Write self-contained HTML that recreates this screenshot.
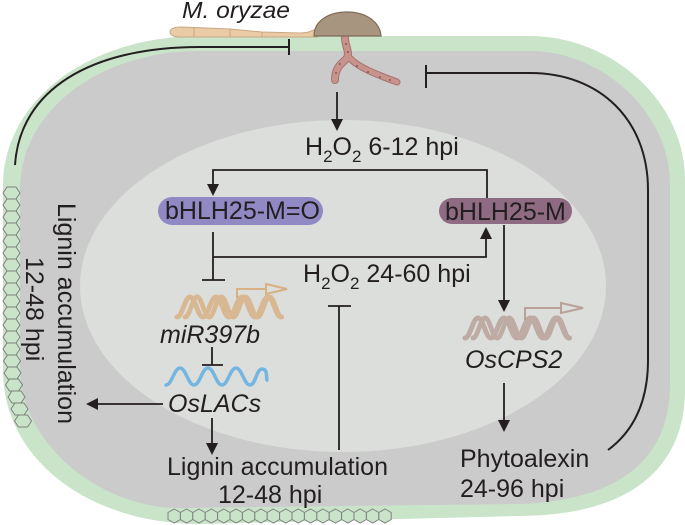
<!DOCTYPE html>
<html><head><meta charset="utf-8"><style>
html,body{margin:0;padding:0;background:#fff;}
svg{display:block;}
text{font-family:"Liberation Sans",Arial,sans-serif;fill:#231f20;font-size:25px;}
.it{font-style:italic;}
</style></head><body>
<svg width="685" height="525" viewBox="0 0 685 525" xmlns="http://www.w3.org/2000/svg">
<defs>
<polygon id="hv" points="-8.5,0 -4.5,-6 4.5,-6 8.5,0 4.5,6 -4.5,6" fill="#c9e4c9" stroke="#808080" stroke-width="1"/>
<polygon id="hb" points="0,-7 6.2,-3.5 6.2,3.5 0,7 -6.2,3.5 -6.2,-3.5" fill="#c9e4c9" stroke="#808080" stroke-width="1"/>
<path id="hx" d="M0,0 C5.2,0 7.8,-20 13,-20 S20.8,0 26,0 S33.8,-20 39,-20 S46.8,0 52,0 S59.8,-20 65,-20 S72.8,0 78,0 S85.8,-20 91,-20 S98.8,0 104,0" fill="none" stroke-width="5" stroke-linecap="round"/>
</defs>
<!-- cell wall -->
<path d="M200,36 L530,36 C610,36 685,100 685,180 L685,390 C685,460 640,515 520,516 L200,524 C90,524 3,460 3,370 L3,186 C3,100 90,36 200,36 Z" fill="#c9e4c9"/>
<path d="M200,51 L530,51 C600,51 670,110 670,185 L670,385 C670,450 630,500 520,504 L180,508 C100,508 22,445 20,370 L20,190 C20,110 100,51 200,51 Z" fill="#cbcbcc"/>
<ellipse cx="343" cy="286" rx="263" ry="166" fill="#dcdedb"/>

<!-- left hexagons -->
<g>
<use href="#hv" x="11.5" y="193"/><use href="#hv" x="11.5" y="205"/><use href="#hv" x="11.5" y="217"/><use href="#hv" x="11.5" y="229"/><use href="#hv" x="11.5" y="241"/><use href="#hv" x="11.5" y="253"/><use href="#hv" x="11.5" y="265"/><use href="#hv" x="11.5" y="277"/><use href="#hv" x="11.5" y="289"/><use href="#hv" x="11.5" y="301"/><use href="#hv" x="11.5" y="313"/><use href="#hv" x="11.5" y="325"/><use href="#hv" x="11.5" y="337"/><use href="#hv" x="11.5" y="349"/><use href="#hv" x="12" y="361"/><use href="#hv" x="12.5" y="373"/><use href="#hv" x="14" y="385"/><use href="#hv" x="16.5" y="397"/><use href="#hv" x="19.5" y="409"/><use href="#hv" x="23" y="421"/>
</g>
<!-- bottom hexagons -->
<g>
<use href="#hb" x="174.2" y="516"/><use href="#hb" x="186.6" y="516"/><use href="#hb" x="199" y="516"/><use href="#hb" x="211.4" y="516"/><use href="#hb" x="223.8" y="516"/><use href="#hb" x="236.2" y="516"/><use href="#hb" x="248.6" y="516"/><use href="#hb" x="261" y="516"/><use href="#hb" x="273.4" y="516"/><use href="#hb" x="285.8" y="516"/><use href="#hb" x="298.2" y="516"/><use href="#hb" x="310.6" y="516"/><use href="#hb" x="323" y="516"/><use href="#hb" x="335.4" y="516"/><use href="#hb" x="347.8" y="516"/><use href="#hb" x="360.2" y="516"/><use href="#hb" x="372.6" y="516"/><use href="#hb" x="385" y="516"/>
</g>

<!-- big arcs -->
<g fill="none" stroke="#231f20" stroke-width="2">
<path d="M15,165 C20,90 90,47 200,47 L289,47"/>
<path d="M289,39 L289,55"/>
<path d="M426,73 L530,73 C600,73 648,120 648,190 L648,360 C648,400 635,430 608,450"/>
<path d="M426,65 L426,88"/>
</g>

<!-- fungus -->
<path d="M170,32 C170,28 175,27 182,27 L230,29 L262,32 L300,33 C308,33 312,31 318,28 L318,37 L180,37 C174,37 170,35 170,32 Z" fill="#e9cba6" stroke="#c9a882" stroke-width="1"/>
<path d="M194,27.5 L194,37 M230,29 L230,37 M262,32 L262,37" stroke="#c9a882" stroke-width="1"/>
<g fill="none" stroke-linecap="round">
<path d="M345,38 C345,46 350,52 347,58 C343,63 335,66 335,80" stroke="#a6726c" stroke-width="8"/>
<path d="M348,56 C355,66 375,74 397,82" stroke="#a6726c" stroke-width="7"/>
<path d="M345,38 C345,46 350,52 347,58 C343,63 335,66 335,80" stroke="#c8938c" stroke-width="6"/>
<path d="M348,56 C355,66 375,74 397,82" stroke="#c8938c" stroke-width="5"/>
</g>
<g fill="#6e4a46">
<circle cx="346" cy="44" r="0.9"/><circle cx="348" cy="52" r="0.9"/><circle cx="340" cy="64" r="0.9"/><circle cx="336" cy="73" r="0.9"/><circle cx="357" cy="66" r="0.9"/><circle cx="368" cy="72" r="0.9"/><circle cx="380" cy="77" r="0.9"/><circle cx="390" cy="80" r="0.9"/>
</g>
<path d="M314,36 C314,20 330,12 347,12 C366,12 380,22 381,36 Z" fill="#a8957f" stroke="#7d6b58" stroke-width="1.2"/>

<!-- connectors -->
<g fill="none" stroke="#231f20" stroke-width="1.8">
<path d="M337,92 L337,121"/>
<path d="M487,198 L487,170 L213,170 L213,186"/>
<path d="M213,232 L213,280 M202,280 L225,280"/>
<path d="M213,257 L486,257 L486,238"/>
<path d="M504,225 L504,302"/>
<path d="M339,306 L339,450 M328,306 L351,306"/>
<path d="M212,347 L212,365 M202,365 L223,365"/>
<path d="M163,404 L96,404"/>
<path d="M212,418 L212,445"/>
<path d="M504,383 L504,422"/>
</g>
<g fill="#231f20">
<polygon points="331,119 343,119 337,131"/>
<polygon points="207,184 219,184 213,196"/>
<polygon points="480,239 492,239 486,227"/>
<polygon points="498,300 510,300 504,312"/>
<polygon points="98,398 98,410 86,404"/>
<polygon points="206,443 218,443 212,455"/>
<polygon points="498,420 510,420 504,432"/>
</g>

<!-- pills -->
<rect x="158" y="197" width="165" height="28" rx="14" fill="#9089c3"/>
<rect x="439" y="198" width="133" height="26" rx="13" fill="#8f6b83"/>

<!-- helices -->
<g stroke="#d7a974" opacity="0.7">
<use href="#hx" transform="translate(177,317)"/>
<use href="#hx" transform="translate(185,317) scale(0.93,1)"/>
</g>
<g fill="none" stroke="#d7a974" stroke-width="2" opacity="0.85">
<path d="M237,298 L237,289 L266,289"/>
<path d="M266,284 L287,289 L266,294 Z"/>
</g>
<g stroke="#b49b91" opacity="0.75">
<use href="#hx" transform="translate(465,338)"/>
<use href="#hx" transform="translate(473,338) scale(0.93,1)"/>
</g>
<g fill="none" stroke="#b49b91" stroke-width="2" opacity="0.9">
<path d="M525,320 L525,308 L561,308"/>
<path d="M561,303 L583,308 L561,313 Z"/>
</g>
<path d="M166,385 C172,385 174,368 180,368 S188,385 194,385 S202,368 208,368 S216,385 222,385 S230,368 236,368 S244,385 250,385 S256,369 262,369 S266,378 267,380" fill="none" stroke="#74b6e2" stroke-width="3.5" stroke-linecap="round"/>

<!-- text -->
<text class="it" x="182" y="18" textLength="108" lengthAdjust="spacingAndGlyphs" style="font-size:23px">M. oryzae</text>
<text x="305" y="155">H<tspan style="font-size:17px" dy="7">2</tspan><tspan dy="-7">O</tspan><tspan style="font-size:17px" dy="7">2</tspan><tspan dy="-7"> 6-12 hpi</tspan></text>
<text x="165" y="219">bHLH25-M=O</text>
<text x="445" y="220">bHLH25-M</text>
<text x="303" y="282">H<tspan style="font-size:17px" dy="7">2</tspan><tspan dy="-7">O</tspan><tspan style="font-size:17px" dy="7">2</tspan><tspan dy="-7"> 24-60 hpi</tspan></text>
<text class="it" x="160" y="343">miR397b</text>
<text class="it" x="168" y="412">OsLACs</text>
<text class="it" x="465" y="368">OsCPS2</text>
<text x="167" y="475">Lignin accumulation</text>
<text x="218" y="503">12-48 hpi</text>
<text x="460" y="467">Phytoalexin</text>
<text x="460" y="497">24-96 hpi</text>
<text transform="translate(58,203) rotate(90)">Lignin accumulation</text>
<text transform="translate(26,257) rotate(90)">12-48 hpi</text>
</svg>
</body></html>
